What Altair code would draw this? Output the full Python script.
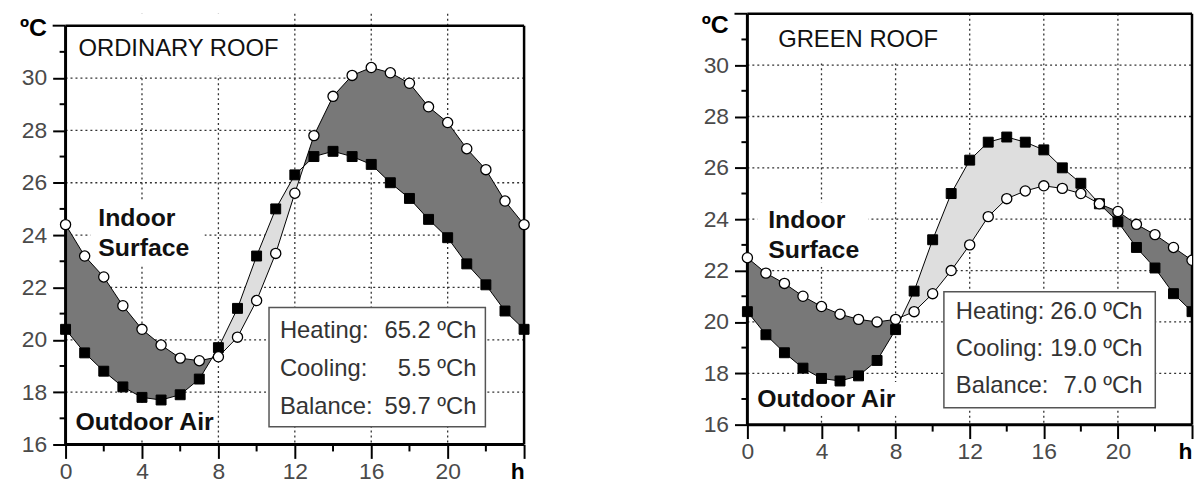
import altair as alt
import pandas as pd

# ---------------- data ----------------
hours = list(range(25))
outdoor_air = [20.4, 19.5, 18.8, 18.2, 17.8, 17.7, 17.9, 18.5, 19.7, 21.2, 23.2, 25.0, 26.3,
               27.0, 27.2, 27.0, 26.7, 26.0, 25.4, 24.6, 23.9, 22.9, 22.1, 21.1, 20.4]
ordinary_surface = [24.4, 23.2, 22.4, 21.3, 20.4, 19.8, 19.3, 19.2, 19.35, 20.1, 21.5, 23.3, 25.6,
                    27.8, 29.3, 30.1, 30.4, 30.2, 29.8, 28.9, 28.3, 27.3, 26.5, 25.3, 24.4]
green_surface = [22.5, 21.9, 21.5, 21.0, 20.6, 20.3, 20.1, 20.0, 20.1, 20.4, 21.1, 22.0, 23.0,
                 24.1, 24.8, 25.1, 25.3, 25.2, 25.0, 24.6, 24.3, 23.8, 23.4, 22.9, 22.4]

x_major = [0, 4, 8, 12, 16, 20, 24]
x_minor = [2, 6, 10, 14, 18, 22]
x_grid = [4, 8, 12, 16, 20]
y_major = [16, 18, 20, 22, 24, 26, 28, 30]
y_top = [32]
y_minor = [17, 19, 21, 23, 25, 27, 29, 31]
y_grid = [18, 20, 22, 24, 26, 28, 30]

panel_titles = ["ORDINARY ROOF", "GREEN ROOF"]
series_labels = ["Indoor", "Surface", "Outdoor Air"]
unit_label = "ºC"
balance_names = ["Heating:", "Cooling:", "Balance:"]
ordinary_balance = ["65.2 ºCh", "5.5 ºCh", "59.7 ºCh"]
green_balance = ["26.0 ºCh", "19.0 ºCh", "7.0 ºCh"]

# ---------------- styles ----------------
FONT = "Liberation Sans"
DARK = "#787878"
LIGHT = "#dedede"
INK = "#111111"
GRID = "#333333"
LABEL = "#4a4a4a"


def band_table(surface, air):
    """Insert crossing points so the two fills meet exactly."""
    xs, s_, a_ = [], [], []
    for i in range(len(hours)):
        if i > 0:
            d0 = surface[i - 1] - air[i - 1]
            d1 = surface[i] - air[i]
            if d0 * d1 < 0:
                t = d0 / (d0 - d1)
                xs.append(hours[i - 1] + t * (hours[i] - hours[i - 1]))
                v = surface[i - 1] + t * (surface[i] - surface[i - 1])
                s_.append(v)
                a_.append(v)
        xs.append(hours[i])
        s_.append(surface[i])
        a_.append(air[i])
    df = pd.DataFrame({"hour": xs, "surface": s_, "air": a_})
    df["low"] = df[["surface", "air"]].min(axis=1)
    return df


def note(text, x, y, **kw):
    return alt.Chart(pd.DataFrame({"t": [text]})).mark_text(font=FONT, **kw).encode(
        x=alt.value(x), y=alt.value(y), text="t:N")


def blank(x, x2, y, y2, **kw):
    style = dict(fill="white")
    style.update(kw)
    return alt.Chart(pd.DataFrame({"t": [0]})).mark_rect(**style).encode(
        x=alt.value(x), x2=alt.value(x2), y=alt.value(y), y2=alt.value(y2))


def panel(title, surface, balance, w, h, ymax, pos, clip_end):
    xs = alt.Scale(domain=[0, 24], nice=False, zero=False)
    ys = alt.Scale(domain=[16, ymax], nice=False, zero=False)
    x_axis = alt.Axis(
        values=x_major, domain=False, grid=False,
        tickColor="black", tickWidth=2, tickSize=14,
        labelExpr="datum.value === 24 ? 'h' : datum.label",
        labelAlign={"condition": {"test": "datum.value === 24", "value": "right"}, "value": "center"},
        labelFontWeight={"condition": {"test": "datum.value === 24", "value": "bold"}, "value": "normal"},
        labelColor={"condition": {"test": "datum.value === 24", "value": "#000000"}, "value": LABEL},
        labelFont=FONT, labelFontSize=23, labelPadding=2, labelFlush=False, labelOverlap=False)
    y_axis = alt.Axis(
        values=y_major, domain=False, grid=False,
        tickColor="black", tickWidth=2, tickSize=13,
        labelColor=LABEL, labelFont=FONT, labelFontSize=23, labelPadding=6, labelFlush=False,
        labelOverlap=False)

    def X(f):
        return alt.X(f, type="quantitative", scale=xs, axis=x_axis, title=None)

    def Y(f):
        return alt.Y(f, type="quantitative", scale=ys, axis=y_axis, title=None)

    band = band_table(surface, outdoor_air)
    pts = pd.DataFrame({"hour": hours, "surface": surface, "air": outdoor_air})
    frame = pd.DataFrame({"x0": [0], "x1": [24], "y0": [16], "y1": [32]})

    layers = []
    # dotted grid
    layers.append(alt.Chart(pd.DataFrame({"v": x_grid})).mark_rule(
        color=GRID, strokeWidth=1.3, strokeDash=[2, 3]).encode(
        x=X("v"), y=alt.value(0), y2=alt.value(h)))
    layers.append(alt.Chart(pd.DataFrame({"v": y_grid})).mark_rule(
        color=GRID, strokeWidth=1.3, strokeDash=[2, 3]).encode(
        y=Y("v"), x=alt.value(0), x2=alt.value(w)))
    # white patches that interrupt the grid behind the labels
    for r in pos["blanks"]:
        layers.append(blank(*r))

    layers.append(alt.Chart(band).mark_area(color=DARK, opacity=1).encode(
        x=X("hour"), y=Y("surface"), y2="low:Q"))
    layers.append(alt.Chart(band).mark_area(color=LIGHT, opacity=1).encode(
        x=X("hour"), y=Y("air"), y2="low:Q"))

    # frame
    layers.append(alt.Chart(frame).mark_rule(color="black", strokeWidth=2.5).encode(
        x=X("x0"), x2="x1:Q", y=Y("y1")))
    layers.append(alt.Chart(frame).mark_rule(color="black", strokeWidth=3).encode(
        x=X("x0"), x2="x1:Q", y=Y("y0")))
    layers.append(alt.Chart(frame).mark_rule(color="black", strokeWidth=3).encode(
        x=X("x0"), y=Y("y0"), y2="y1:Q"))
    layers.append(alt.Chart(frame).mark_rule(color="black", strokeWidth=2.5).encode(
        x=X("x1"), y=Y("y0"), y2="y1:Q"))

    # extra ticks
    layers.append(alt.Chart(pd.DataFrame({"v": x_minor})).mark_rule(color="black", strokeWidth=2).encode(
        x=X("v"), y=alt.value(h), y2=alt.value(h + 7)))
    layers.append(alt.Chart(pd.DataFrame({"v": y_minor})).mark_rule(color="black", strokeWidth=2).encode(
        y=Y("v"), x=alt.value(-6), x2=alt.value(0)))
    layers.append(alt.Chart(pd.DataFrame({"v": y_top})).mark_rule(color="black", strokeWidth=2).encode(
        y=Y("v"), x=alt.value(-13), x2=alt.value(0)))

    # lines
    layers.append(alt.Chart(pts).mark_line(color="black", strokeWidth=1).encode(
        x=X("hour"), y=Y("surface")))
    layers.append(alt.Chart(pts).mark_line(color="black", strokeWidth=1).encode(
        x=X("hour"), y=Y("air")))

    # points
    for flt, clip in (("datum.hour < 24", False), ("datum.hour >= 24", clip_end)):
        layers.append(alt.Chart(pts).transform_filter(flt).mark_point(
            shape="square", filled=True, fill="black", stroke="black", strokeWidth=1,
            size=100, opacity=1, clip=clip).encode(x=X("hour"), y=Y("air")))
        layers.append(alt.Chart(pts).transform_filter(flt).mark_point(
            shape="circle", filled=True, fill="white", stroke="black", strokeWidth=1.3,
            size=105, opacity=1, clip=clip).encode(x=X("hour"), y=Y("surface")))

    # balance box
    bx = pos["box"]
    layers.append(blank(bx[0], bx[1], bx[2], bx[3], stroke="#555555", strokeWidth=1.5))
    for i, (name, val) in enumerate(zip(balance_names, balance)):
        yy = pos["lines_y"][i]
        layers.append(note(name, pos["lx"], yy, align="left", baseline="middle",
                           fontSize=24, color="#333333"))
        layers.append(note(val, pos["rx"], yy, align="right", baseline="middle",
                           fontSize=24, color="#333333"))

    # labels
    layers.append(note(title, pos["title"][0], pos["title"][1], align="left", baseline="middle",
                       fontSize=24, color=INK))
    layers.append(note(series_labels[0], pos["indoor"][0], pos["indoor"][1], align="left",
                       baseline="middle", fontSize=25, fontWeight="bold", color=INK))
    layers.append(note(series_labels[1], pos["indoor"][0], pos["indoor"][1] + 30, align="left",
                       baseline="middle", fontSize=25, fontWeight="bold", color=INK))
    layers.append(note(series_labels[2], pos["outdoor"][0], pos["outdoor"][1], align="left",
                       baseline="middle", fontSize=25, fontWeight="bold", color=INK))
    layers.append(note(unit_label, -46, pos["unit_y"], align="left", baseline="top",
                       fontSize=25, fontWeight="bold", color="black"))

    return alt.layer(*layers).properties(width=w, height=h)


left_pos = dict(
    blanks=[(5, 225, 0, 62), (25, 140, 188, 254), (3, 152, 394, 428)],
    box=(205, 423, 296, 416), lines_y=[320, 358, 396], lx=216, rx=414,
    title=(13, 36), indoor=(33, 206), outdoor=(10, 411), unit_y=2)
right_pos = dict(
    blanks=[(22, 200, 0, 48), (10, 122, 190, 255), (3, 152, 371, 405)],
    box=(198, 411, 280, 397), lines_y=[301, 338, 375], lx=210, rx=398,
    title=(31, 26), indoor=(21, 208), outdoor=(10, 388), unit_y=-1)

left = panel(panel_titles[0], ordinary_surface, ordinary_balance, 462, 434,
             16 + 434 / ((446 - 24) / 16), left_pos, False)
right = panel(panel_titles[1], green_surface, green_balance, 448, 414, 32, right_pos, True)

chart = alt.hconcat(left, right, spacing=225, bounds="flush").properties(
    padding={"left": 12, "top": 2, "right": 0, "bottom": 0},
    background="white",
).configure_view(stroke=None)

chart.save("out.html", embed_options={"renderer": "svg", "actions": False})
